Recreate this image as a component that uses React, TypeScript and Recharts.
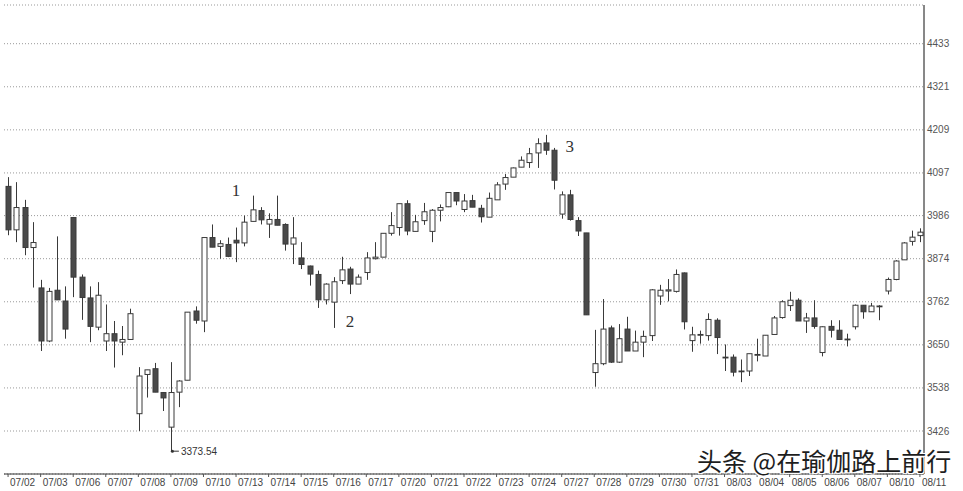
import { Bar, CartesianGrid, ComposedChart, ReferenceDot, XAxis, YAxis } from "recharts";

// trading days shown on the time axis, 4 hourly candles per day
const days = [
  "07/02", "07/03", "07/06", "07/07", "07/08", "07/09", "07/10", "07/13", "07/14", "07/15",
  "07/16", "07/17", "07/20", "07/21", "07/22", "07/23", "07/24", "07/27", "07/28", "07/29",
  "07/30", "07/31", "08/03", "08/04", "08/05", "08/06", "08/07", "08/10", "08/11",
];

const opens = [
  4062, 3949, 4007, 3903, 3798, 3660, 3792, 3764, 3981, 3826, 3772, 3696, 3660, 3679, 3657, 3664,
  3471, 3573, 3588, 3526, 3436, 3527, 3558, 3738, 3712, 3929, 3906, 3911, 3922, 3915, 3971, 3999,
  3964, 3976, 3963, 3912, 3876, 3855, 3833, 3767, 3761, 3817, 3847, 3808, 3838, 3874, 3878, 3940,
  3955, 4017, 3945, 3973, 3945, 4000, 4009, 4046, 4002, 4025, 4005, 3982, 4027, 4068, 4086, 4112,
  4124, 4149, 4175, 4156, 3990, 4040, 3973, 3941, 3578, 3601, 3694, 3605, 3691, 3634, 3657, 3674,
  3777, 3790, 3789, 3837, 3661, 3675, 3674, 3714, 3616, 3618, 3582, 3582, 3623, 3621, 3677, 3721,
  3752, 3766, 3712, 3720, 3630, 3698, 3688, 3664, 3697, 3753, 3736, 3751, 3790, 3820, 3871, 3919,
  3934,
];
const highs = [
  4086, 4073, 4027, 3969, 3819, 3798, 3932, 3802, 3981, 3833, 3802, 3813, 3755, 3712, 3699, 3744,
  3592, 3585, 3603, 3527, 3605, 3558, 3735, 3750, 3929, 3963, 3922, 3929, 3955, 3986, 4038, 4008,
  3992, 4038, 3966, 3982, 3917, 3856, 3843, 3810, 3826, 3879, 3853, 3833, 3891, 3917, 3940, 3995,
  4017, 4026, 3988, 4019, 4003, 4015, 4046, 4046, 4042, 4040, 4014, 4046, 4073, 4094, 4111, 4140,
  4162, 4187, 4196, 4162, 4049, 4053, 3982, 3941, 3689, 3769, 3700, 3704, 3723, 3687, 3687, 3795,
  3806, 3821, 3846, 3838, 3697, 3687, 3732, 3719, 3651, 3625, 3612, 3627, 3666, 3675, 3725, 3766,
  3788, 3771, 3733, 3766, 3698, 3714, 3714, 3679, 3755, 3753, 3759, 3753, 3825, 3870, 3917, 3947,
  3953,
];
const lows = [
  3935, 3917, 3883, 3799, 3634, 3657, 3767, 3666, 3774, 3715, 3657, 3688, 3634, 3591, 3623, 3664,
  3426, 3513, 3527, 3478, 3373.54, 3488, 3558, 3705, 3683, 3904, 3874, 3878, 3865, 3906, 3971, 3963,
  3928, 3961, 3895, 3860, 3847, 3804, 3746, 3755, 3694, 3808, 3782, 3808, 3819, 3872, 3878, 3934,
  3934, 3935, 3945, 3962, 3917, 3971, 4008, 4013, 3995, 4008, 3968, 3982, 4027, 4053, 4086, 4112,
  4110, 4110, 4144, 4054, 3978, 3973, 3933, 3728, 3541, 3597, 3603, 3603, 3634, 3634, 3618, 3660,
  3754, 3763, 3786, 3690, 3632, 3653, 3661, 3626, 3582, 3568, 3553, 3569, 3607, 3621, 3677, 3718,
  3738, 3712, 3681, 3692, 3620, 3669, 3664, 3646, 3690, 3718, 3736, 3714, 3781, 3818, 3871, 3908,
  3917,
];
const closes = [
  3949, 4007, 3903, 3916, 3660, 3789, 3767, 3691, 3826, 3773, 3698, 3779, 3679, 3660, 3664, 3731,
  3569, 3585, 3527, 3512, 3526, 3556, 3735, 3714, 3929, 3904, 3913, 3880, 3915, 3969, 4001, 3975,
  3976, 3961, 3912, 3928, 3859, 3834, 3767, 3808, 3814, 3845, 3808, 3826, 3876, 3878, 3940, 3960,
  4017, 3946, 3970, 3996, 4000, 4007, 4046, 4024, 4024, 4008, 3983, 4031, 4066, 4085, 4110, 4130,
  4147, 4173, 4156, 4078, 4040, 3976, 3946, 3728, 3601, 3691, 3605, 3666, 3634, 3657, 3672, 3793,
  3792, 3793, 3833, 3710, 3676, 3677, 3716, 3669, 3618, 3579, 3580, 3627, 3625, 3675, 3720, 3762,
  3766, 3712, 3720, 3698, 3697, 3688, 3664, 3665, 3753, 3736, 3751, 3750, 3820, 3868, 3915, 3930,
  3943,
];

const yTicks = [3426, 3538, 3650, 3762, 3874, 3986, 4097, 4209, 4321, 4433];

// wave labels drawn on the chart
const noteText = ["1", "2", "3"];
const noteIdx = [28, 42, 69];
const noteVal = [4053, 3712, 4167];
const lowIdx = 20;
const lowVal = 3373.54;

const data = opens.map((o, i) => ({
  i,
  o,
  h: highs[i],
  l: lows[i],
  c: closes[i],
  range: [lows[i], highs[i]],
}));

const axisFont = "'Liberation Sans', Arial, sans-serif";

function Candle(props: any) {
  const { x, y, width, height, payload } = props;
  const top = Math.min(y, y + height);
  const bot = Math.max(y, y + height);
  const { o, h, l, c } = payload;
  const k = (bot - top) / (h - l || 1);
  const yO = top + (h - o) * k;
  const yC = top + (h - c) * k;
  const cx = Math.round(x + width / 2) + 0.5;
  const up = c >= o;
  const bTop = Math.min(yO, yC);
  const bH = Math.max(Math.abs(yO - yC), 0.8);
  return (
    <g>
      <line x1={cx} x2={cx} y1={top} y2={bot} stroke="#3a3a3a" strokeWidth={1} />
      <rect
        x={cx - 2.5}
        y={bTop}
        width={5}
        height={bH}
        fill={up ? "#ffffff" : "#4a4a4a"}
        stroke="#3a3a3a"
        strokeWidth={1}
      />
    </g>
  );
}

function DayTick({ x, y, payload }: any) {
  const label = days[Math.round(payload.value / 4)];
  return (
    <g>
      <line x1={x} x2={x} y1={y} y2={y + 3} stroke="#555" />
      <text x={x + 2} y={y + 12} fontSize={10} fill="#444" fontFamily={axisFont}>
        {label}
      </text>
    </g>
  );
}

function PriceTick({ x, y, payload }: any) {
  return (
    <text x={x} y={y} dy={3.5} fontSize={10} fill="#555" fontFamily={axisFont}>
      {payload.value}
    </text>
  );
}

export default function App() {
  return (
    <div style={{ position: "absolute", left: 0, top: 0, width: 963, height: 491, background: "#fff" }}>
      <ComposedChart
        width={963}
        height={491}
        data={data}
        margin={{ top: 5, right: 0, bottom: 0, left: 4 }}
      >
        <CartesianGrid vertical={false} stroke="#999" strokeDasharray="1 2" />
        <XAxis
          dataKey="i"
          type="category"
          ticks={days.map((_, d) => d * 4)}
          interval={0}
          tick={<DayTick />}
          tickLine={false}
          tickSize={0}
          tickMargin={0}
          height={17}
          axisLine={{ stroke: "#333" }}
        />
        <YAxis
          orientation="right"
          domain={[3314.2, 4533.6]}
          ticks={yTicks}
          allowDataOverflow
          width={39}
          tickLine={false}
          tickSize={0}
          tickMargin={3}
          tick={<PriceTick />}
          axisLine={{ stroke: "#111" }}
        />
        <Bar dataKey="range" shape={<Candle />} isAnimationActive={false} />
        {noteText.map((t, n) => (
          <ReferenceDot
            key={t}
            x={noteIdx[n]}
            y={noteVal[n]}
            r={0}
            shape={(p: any) => (
              <text
                x={p.cx}
                y={p.cy}
                dy={6}
                textAnchor="middle"
                fontSize={17}
                fill="#333"
                fontFamily="'Liberation Serif', 'DejaVu Serif', serif"
              >
                {t}
              </text>
            )}
          />
        ))}
        <ReferenceDot
          x={lowIdx}
          y={lowVal}
          r={0}
          shape={(p: any) => (
            <g>
              <line x1={p.cx} x2={p.cx + 8} y1={p.cy} y2={p.cy} stroke="#333" />
              <circle cx={p.cx + 1.5} cy={p.cy} r={1.5} fill="#333" />
              <text x={p.cx + 10} y={p.cy} dy={3.5} fontSize={10} fill="#333" fontFamily={axisFont}>
                {lowVal.toFixed(2)}
              </text>
            </g>
          )}
        />
      </ComposedChart>
      <div
        style={{
          position: "absolute",
          left: 697,
          top: 445,
          fontSize: 25,
          lineHeight: "31px",
          color: "#1e1e1e",
          fontFamily: "'Noto Sans CJK SC', sans-serif",
          whiteSpace: "nowrap",
          textShadow: "1px 1px 0 #fff, -1px -1px 0 #fff, 1px -1px 0 #fff, -1px 1px 0 #fff",
        }}
      >
        头条 @在瑜伽路上前行
      </div>
    </div>
  );
}
